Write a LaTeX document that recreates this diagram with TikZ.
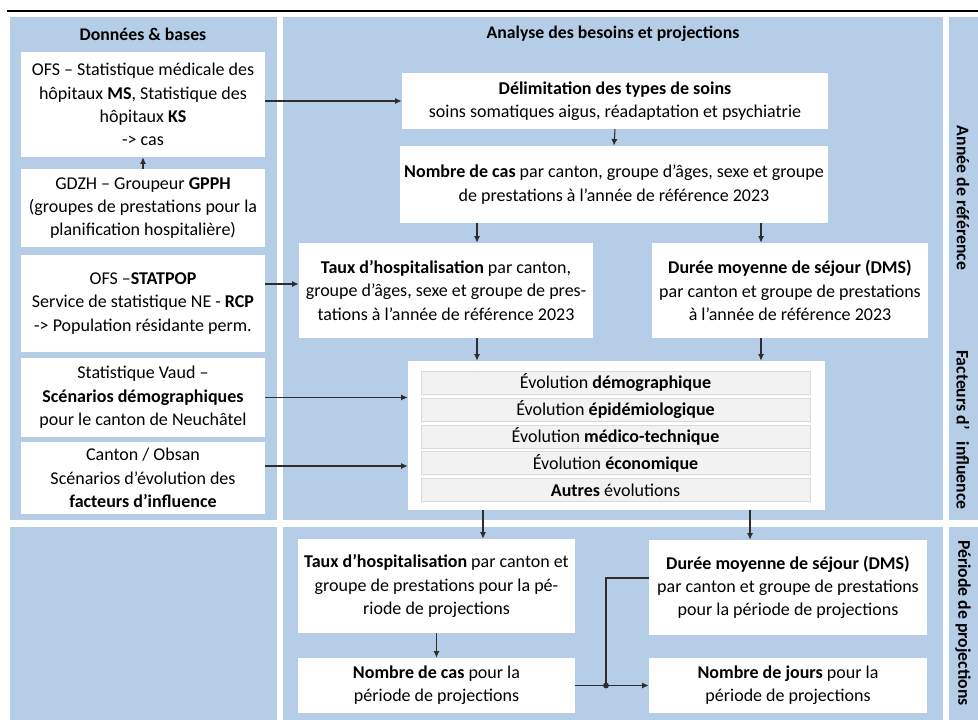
\documentclass[tikz,border=0pt]{standalone}
\usepackage{fontspec}
\setmainfont{Carlito}
\usepackage{tikz}
\usetikzlibrary{arrows.meta}

\definecolor{panelblue}{RGB}{181,205,231}
\definecolor{rowgray}{RGB}{242,242,242}
\definecolor{rowline}{RGB}{217,217,217}
\definecolor{linegray}{RGB}{45,45,45}

\tikzset{
  wbox/.style={fill=white, inner sep=0pt, align=center, font=\fontsize{13.5}{17.5}\selectfont},
  evorow/.style={fill=rowgray, draw=rowline, line width=0.4pt, inner sep=0pt, align=center, font=\fontsize{13.5}{15}\selectfont},
  arr/.style={draw=linegray, line width=0.8pt, -{Latex[length=5pt,width=4.5pt]}},
  conn/.style={draw=linegray, line width=0.8pt},
  head/.style={inner sep=0.75pt, font=\bfseries\fontsize{13.3}{15}\selectfont},
}

\begin{document}
\begin{tikzpicture}[x=0.75pt,y=0.75pt,yscale=-1,xscale=1]
\useasboundingbox (0,0) rectangle (978,720);

%Straight Lines
\draw [line width=1.5pt] (7,11) -- (978,11) ;

%Shape: Rectangle (panels)
\fill [panelblue] (10,17) rectangle (277,520) ;
\fill [panelblue] (283,17) rectangle (943,520) ;
\fill [panelblue] (949,17) rectangle (978,520) ;
\fill [panelblue] (10,527) rectangle (277,720) ;
\fill [panelblue] (283,527) rectangle (943,720) ;
\fill [panelblue] (949,527) rectangle (978,720) ;

% Text Node
\node [head] (hdata) at (143,34) {Données \& bases};
% Text Node
\node [head] (hanalyse) at (613,34) {Analyse des besoins et projections};
% Text Node
\node [head, rotate=-90] (sref) at (963,198) {Année de référence};
% Text Node
\node [head, rotate=-90] (sfact) at (963,430) {Facteurs d’\ \ \ influence};
% Text Node
\node [head, rotate=-90] (sproj) at (963,623) {Période de projections};

% Data boxes
\node [wbox, minimum width=183pt, minimum height=78.75pt] (ofs) at (143,104.5) {OFS – Statistique médicale des\\ hôpitaux \textbf{MS}, Statistique des\\ hôpitaux \textbf{KS}\\ -> cas};
\node [wbox, minimum width=183pt, minimum height=58.5pt] (gdzh) at (143,208) {GDZH – Groupeur \textbf{GPPH}\\ (groupes de prestations pour la\\ planification hospitalière)};
\node [wbox, minimum width=183pt, minimum height=72.75pt] (statpop) at (143,303.5) {OFS –\textbf{STATPOP}\\ Service de statistique NE - \textbf{RCP}\\ -> Population résidante perm.};
\node [wbox, minimum width=183pt, minimum height=59.25pt] (vaud) at (143,397.5) {Statistique Vaud –\\ \textbf{Scénarios démographiques}\\ pour le canton de Neuchâtel};
\node [wbox, minimum width=183pt, minimum height=54pt] (obsan) at (143,478) {Canton / Obsan\\ Scénarios d’évolution des\\ \textbf{facteurs d’influence}};

% Reference year
\node [wbox, minimum width=319.5pt, minimum height=42pt] (delim) at (615,101) {\textbf{Délimitation des types de soins}\\ soins somatiques aigus, réadaptation et psychiatrie};
\node [wbox, minimum width=321pt, minimum height=57.75pt] (nbcas) at (614,184.5) {\textbf{Nombre de cas} par canton, groupe d’âges, sexe et groupe\\ de prestations à l’année de référence 2023};
\node [wbox, minimum width=220.5pt, minimum height=71.25pt] (taux) at (446,290.5) {\textbf{Taux d’hospitalisation} par canton,\\ groupe d’âges, sexe et groupe de pres-\\ tations à l’année de référence 2023};
\node [wbox, minimum width=207pt, minimum height=71.25pt] (dms) at (790,290.5) {\textbf{Durée moyenne de séjour (DMS)}\\ par canton et groupe de prestations\\ à l’année de référence 2023};

% Influence factors
\node [wbox, minimum width=312.75pt, minimum height=111.75pt] (evol) at (616.5,435.5) {};
\node [evorow, minimum width=291.75pt, minimum height=17.25pt] (ev1) at (615.5,383) {Évolution \textbf{démographique}};
\node [evorow, minimum width=291.75pt, minimum height=17.25pt] (ev2) at (615.5,409.75) {Évolution \textbf{épidémiologique}};
\node [evorow, minimum width=291.75pt, minimum height=17.25pt] (ev3) at (615.5,436.5) {Évolution \textbf{médico-technique}};
\node [evorow, minimum width=291.75pt, minimum height=17.25pt] (ev4) at (615.5,463.25) {Évolution \textbf{économique}};
\node [evorow, minimum width=291.75pt, minimum height=17.25pt] (ev5) at (615.5,490) {\textbf{Autres} évolutions};

% Projection period
\node [wbox, minimum width=207.75pt, minimum height=70.5pt] (tauxp) at (436.5,586) {\textbf{Taux d’hospitalisation} par canton et\\ groupe de prestations pour la pé-\\ riode de projections};
\node [wbox, minimum width=208.5pt, minimum height=71.25pt] (dmsp) at (788,587.5) {\textbf{Durée moyenne de séjour (DMS)}\\ par canton et groupe de prestations\\ pour la période de projections};
\node [wbox, minimum width=207.75pt, minimum height=41.25pt] (nbcasp) at (436.5,685.5) {\textbf{Nombre de cas} pour la\\ période de projections};
\node [wbox, minimum width=208.5pt, minimum height=41.25pt] (nbjours) at (788,685.5) {\textbf{Nombre de jours} pour la\\ période de projections};

% helper coordinates
\coordinate (cl) at (477,0);
\coordinate (cr) at (761,0);
\coordinate (dl) at (483,0);
\coordinate (dr) at (750,0);
\coordinate (ypop) at (0,284);
\coordinate (yobs) at (0,466);
\coordinate (ydms) at (0,578);
\coordinate (jx) at (606,0);

%Straight Lines
\draw [arr] (delim.west -| ofs.east) -- (delim.west) ;
\draw [arr] (gdzh.north) -- (ofs.south) ;
\draw [arr] (statpop.east |- ypop) -- (taux.west |- ypop) ;
\draw [arr] (vaud.east) -- (vaud.east -| evol.west) ;
\draw [arr] (obsan.east |- yobs) -- (evol.west |- yobs) ;
\draw [arr] (delim.south) -- (nbcas.north) ;
\draw [arr] (nbcas.south -| cl) -- (taux.north -| cl) ;
\draw [arr] (nbcas.south -| cr) -- (dms.north -| cr) ;
\draw [arr] (taux.south -| cl) -- (evol.north -| cl) ;
\draw [arr] (dms.south -| cr) -- (evol.north -| cr) ;
\draw [arr] (evol.south -| dl) -- (tauxp.north -| dl) ;
\draw [arr] (evol.south -| dr) -- (dmsp.north -| dr) ;
\draw [arr] (tauxp.south) -- (nbcasp.north) ;
\draw [arr] (nbcasp.east) -- (nbjours.west) ;
\coordinate (junc) at (nbcasp.east -| jx);
\draw [conn] (dmsp.west |- ydms) -| (junc) ;
\fill [linegray] (junc) circle (2.2pt) ;

\end{tikzpicture}
\end{document}
